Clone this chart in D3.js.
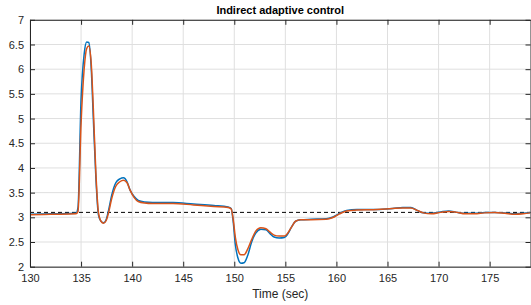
<!DOCTYPE html>
<html>
<head>
<meta charset="utf-8">
<script src="https://cdn.jsdelivr.net/npm/d3@7"></script>
<style>
  body { margin: 0; background: #fff; }
  svg { display: block; font-family: "Liberation Sans", Arial, sans-serif; }
</style>
</head>
<body>
<svg id="chart" width="531" height="305"></svg>
<script>
// time samples (sec)
const time = [130, 132, 134.5, 134.7, 135.0, 135.3, 135.55, 135.75, 136.0, 136.2, 136.45, 136.7, 136.95, 137.2, 137.45, 137.7, 138.0, 138.4, 138.8, 139.15, 139.5, 139.8, 140.2, 140.6, 141.2, 142, 144, 146, 148, 149.4, 149.7, 149.9, 150.1, 150.35, 150.65, 150.95, 151.3, 151.7, 152.1, 152.6, 153.1, 153.5, 153.9, 154.4, 154.9, 155.2, 155.6, 156.0, 156.5, 157.5, 159.0, 159.6, 160.3, 161.0, 162, 164, 165.5, 166.5, 167.3, 167.9, 168.5, 169.3, 170.2, 171.0, 171.8, 172.6, 173.5, 174.5, 175.5, 176.5, 177.5, 178.3, 179];

// blue series
const seriesBlue = [3.06, 3.07, 3.08, 3.2, 5.4, 6.3, 6.55, 6.54, 6.0, 5.0, 3.8, 3.05, 2.92, 2.89, 2.95, 3.15, 3.45, 3.7, 3.78, 3.8, 3.72, 3.55, 3.42, 3.34, 3.31, 3.30, 3.30, 3.27, 3.24, 3.21, 3.18, 2.9, 2.45, 2.18, 2.07, 2.08, 2.22, 2.5, 2.68, 2.76, 2.75, 2.67, 2.6, 2.58, 2.59, 2.65, 2.8, 2.92, 2.95, 2.96, 2.97, 3.0, 3.08, 3.14, 3.16, 3.16, 3.18, 3.2, 3.2, 3.14, 3.09, 3.08, 3.11, 3.13, 3.1, 3.08, 3.08, 3.1, 3.1, 3.09, 3.07, 3.08, 3.1];

// orange series
const seriesOrange = [3.05, 3.06, 3.07, 3.12, 4.9, 6.0, 6.42, 6.47, 6.1, 5.2, 3.9, 3.1, 2.92, 2.88, 2.93, 3.1, 3.38, 3.63, 3.72, 3.75, 3.7, 3.55, 3.4, 3.32, 3.29, 3.28, 3.28, 3.25, 3.22, 3.2, 3.17, 2.95, 2.6, 2.35, 2.24, 2.24, 2.35, 2.55, 2.72, 2.79, 2.77, 2.7, 2.64, 2.62, 2.62, 2.67, 2.8, 2.92, 2.95, 2.95, 2.96, 2.99, 3.07, 3.13, 3.15, 3.16, 3.18, 3.19, 3.19, 3.14, 3.09, 3.07, 3.1, 3.12, 3.1, 3.07, 3.07, 3.09, 3.1, 3.08, 3.06, 3.07, 3.09];

const reference = 3.1;
const xTicks = [130, 135, 140, 145, 150, 155, 160, 165, 170, 175];
const yTicks = [2, 2.5, 3, 3.5, 4, 4.5, 5, 5.5, 6, 6.5, 7];

const svg = d3.select('#chart');
const pLeft = 30, pRight = 530.5, pTop = 19.8, pBottom = 266.7;

const x = d3.scaleLinear().domain([130, 179]).range([pLeft, pRight]);
const y = d3.scaleLinear().domain([2, 7]).range([pBottom, pTop]);

// Gitter
const grid = svg.append('g').attr('stroke', '#dfdfdf').attr('stroke-width', 1);
xTicks.forEach(t => {
  grid.append('line').attr('x1', x(t)).attr('x2', x(t)).attr('y1', pTop).attr('y2', pBottom);
});
yTicks.forEach(v => {
  grid.append('line').attr('x1', pLeft).attr('x2', pRight).attr('y1', y(v)).attr('y2', y(v));
});

// Referenzlinie
svg.append('line')
  .attr('x1', pLeft).attr('x2', pRight)
  .attr('y1', y(reference)).attr('y2', y(reference))
  .attr('stroke', '#000').attr('stroke-width', 1)
  .attr('stroke-dasharray', '4,3');

const line = d3.line()
  .x((d, i) => x(time[i]))
  .y(d => y(d))
  .curve(d3.curveMonotoneX);

svg.append('clipPath').attr('id', 'clip')
  .append('rect').attr('x', pLeft).attr('y', pTop).attr('width', pRight - pLeft).attr('height', pBottom - pTop);

svg.append('path').datum(seriesBlue)
  .attr('clip-path', 'url(#clip)')
  .attr('fill', 'none').attr('stroke', '#0072BD').attr('stroke-width', 1.5)
  .attr('d', line);

svg.append('path').datum(seriesOrange)
  .attr('clip-path', 'url(#clip)')
  .attr('fill', 'none').attr('stroke', '#D95319').attr('stroke-width', 1.5)
  .attr('d', line);

// Achsen
const axisColor = '#262626';
const xAxis = d3.axisBottom(x).tickValues(xTicks).tickSizeInner(-5).tickSizeOuter(0).tickPadding(8);
const yAxis = d3.axisLeft(y).tickValues(yTicks).tickFormat(d3.format('')).tickSizeInner(-5).tickSizeOuter(0).tickPadding(6);

function styleAxis(g, showText) {
  g.select('.domain').attr('stroke', axisColor);
  g.selectAll('.tick line').attr('stroke', axisColor);
  g.selectAll('.tick text').attr('fill', axisColor).style('font-size', '11px')
    .style('font-family', '"Liberation Sans", Arial, sans-serif');
  if (!showText) g.selectAll('.tick text').remove();
}

svg.append('g').attr('transform', `translate(0,${pBottom})`).call(xAxis).call(g => styleAxis(g, true));
svg.append('g').attr('transform', `translate(${pLeft},0)`).call(yAxis).call(g => styleAxis(g, true));
svg.append('g').attr('transform', `translate(0,${pTop})`)
  .call(d3.axisTop(x).tickValues(xTicks).tickSizeInner(-5).tickSizeOuter(0)).call(g => styleAxis(g, false));
svg.append('g').attr('transform', `translate(${pRight},0)`)
  .call(d3.axisRight(y).tickValues(yTicks).tickSizeInner(-5).tickSizeOuter(0)).call(g => styleAxis(g, false));

// Titel und Beschriftung
svg.append('text')
  .attr('x', (pLeft + pRight) / 2).attr('y', 14)
  .attr('text-anchor', 'middle')
  .style('font-size', '11px').style('font-weight', 'bold')
  .attr('fill', '#000')
  .text('Indirect adaptive control');

svg.append('text')
  .attr('x', (pLeft + pRight) / 2).attr('y', 298)
  .attr('text-anchor', 'middle')
  .style('font-size', '12px')
  .attr('fill', axisColor)
  .text('Time (sec)');
</script>
</body>
</html>
